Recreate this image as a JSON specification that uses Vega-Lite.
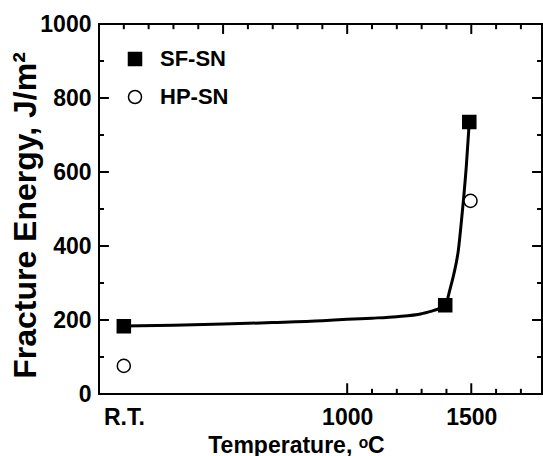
{
  "$schema": "https://vega.github.io/schema/vega-lite/v6.json",
  "width": 443,
  "height": 370,
  "autosize": {"type": "none"},
  "padding": {"left": 99, "top": 24, "right": 1, "bottom": 62},
  "background": "white",
  "config": {
    "view": {"stroke": "black", "strokeWidth": 2},
    "font": "Liberation Sans",
    "axis": {
      "grid": false,
      "domain": false,
      "ticks": false,
      "labelFont": "Liberation Sans",
      "labelFontWeight": "bold",
      "labelFontSize": 23,
      "labelColor": "black",
      "titleFont": "Liberation Sans",
      "titleFontWeight": "bold",
      "titleColor": "black"
    }
  },
  "datasets": {
    "fit": [
      {"T": 100, "E": 184}, {"T": 300, "E": 186}, {"T": 500, "E": 189},
      {"T": 700, "E": 193}, {"T": 900, "E": 198}, {"T": 1000, "E": 202},
      {"T": 1100, "E": 205}, {"T": 1200, "E": 209}, {"T": 1300, "E": 217},
      {"T": 1350, "E": 226}, {"T": 1395, "E": 240}, {"T": 1415, "E": 285},
      {"T": 1430, "E": 325}, {"T": 1448, "E": 389}, {"T": 1460, "E": 465},
      {"T": 1470, "E": 535}, {"T": 1480, "E": 615}, {"T": 1492, "E": 735}
    ],
    "pts": [
      {"T": 100, "E": 183, "series": "SF-SN"},
      {"T": 1395, "E": 240, "series": "SF-SN"},
      {"T": 1492, "E": 735, "series": "SF-SN"},
      {"T": 100, "E": 76, "series": "HP-SN"},
      {"T": 1497, "E": 522, "series": "HP-SN"}
    ],
    "xBotMajor": [{"T": 1000}, {"T": 1500}],
    "xBotMinor": [{"T": 1100}, {"T": 1200}, {"T": 1300}, {"T": 1400}, {"T": 1600}, {"T": 1700}],
    "xTopMajor": [{"T": 500}, {"T": 1000}, {"T": 1500}],
    "xTopMinor": [{"T": 100}, {"T": 200}, {"T": 300}, {"T": 400}, {"T": 600}, {"T": 700}, {"T": 800}, {"T": 900}, {"T": 1100}, {"T": 1200}, {"T": 1300}, {"T": 1400}, {"T": 1600}, {"T": 1700}],
    "yMajor": [{"E": 200}, {"E": 400}, {"E": 600}, {"E": 800}],
    "yMinor": [{"E": 100}, {"E": 300}, {"E": 500}, {"E": 700}, {"E": 900}]
  },
  "layer": [
    {
      "data": {"name": "fit"},
      "mark": {"type": "line", "color": "black", "strokeWidth": 3, "interpolate": "monotone"},
      "encoding": {
        "x": {
          "field": "T", "type": "quantitative",
          "scale": {"domain": [0, 1785], "nice": false, "zero": false},
          "axis": {
            "orient": "bottom",
            "values": [100, 1000, 1500],
            "format": "d",
            "labelExpr": "datum.value == 100 ? 'R.T.' : datum.label",
            "labelPadding": 12,
            "title": "Temperature, ᵒC",
            "titleFontSize": 23,
            "titleX": 197,
            "titleY": 58,
            "titleBaseline": "alphabetic",
            "titleAnchor": "middle"
          }
        },
        "y": {
          "field": "E", "type": "quantitative",
          "scale": {"domain": [0, 1000], "nice": false},
          "axis": {
            "orient": "left",
            "values": [0, 200, 400, 600, 800, 1000],
            "format": "d",
            "labelPadding": 8,
            "title": "Fracture Energy, J/m²",
            "titleFontSize": 32,
            "titleX": -64,
            "titleY": 191,
            "titleAngle": -90,
            "titleBaseline": "alphabetic",
            "titleAlign": "center"
          }
        }
      }
    },
    {
      "data": {"name": "xBotMajor"},
      "mark": {"type": "rule", "color": "black", "strokeWidth": 2},
      "encoding": {"x": {"field": "T", "type": "quantitative"}, "y": {"datum": 0, "type": "quantitative"}, "y2": {"datum": 29}}
    },
    {
      "data": {"name": "xBotMinor"},
      "mark": {"type": "rule", "color": "black", "strokeWidth": 2},
      "encoding": {"x": {"field": "T", "type": "quantitative"}, "y": {"datum": 0, "type": "quantitative"}, "y2": {"datum": 14}}
    },
    {
      "data": {"name": "xTopMajor"},
      "mark": {"type": "rule", "color": "black", "strokeWidth": 2},
      "encoding": {"x": {"field": "T", "type": "quantitative"}, "y": {"datum": 1000, "type": "quantitative"}, "y2": {"datum": 973}}
    },
    {
      "data": {"name": "xTopMinor"},
      "mark": {"type": "rule", "color": "black", "strokeWidth": 2},
      "encoding": {"x": {"field": "T", "type": "quantitative"}, "y": {"datum": 1000, "type": "quantitative"}, "y2": {"datum": 986}}
    },
    {
      "data": {"name": "yMajor"},
      "mark": {"type": "rule", "color": "black", "strokeWidth": 2},
      "encoding": {"y": {"field": "E", "type": "quantitative"}, "x": {"datum": 0, "type": "quantitative"}, "x2": {"datum": 40}}
    },
    {
      "data": {"name": "yMinor"},
      "mark": {"type": "rule", "color": "black", "strokeWidth": 2},
      "encoding": {"y": {"field": "E", "type": "quantitative"}, "x": {"datum": 0, "type": "quantitative"}, "x2": {"datum": 20}}
    },
    {
      "data": {"name": "yMajor"},
      "mark": {"type": "rule", "color": "black", "strokeWidth": 2},
      "encoding": {"y": {"field": "E", "type": "quantitative"}, "x": {"datum": 1785, "type": "quantitative"}, "x2": {"datum": 1745}}
    },
    {
      "data": {"name": "yMinor"},
      "mark": {"type": "rule", "color": "black", "strokeWidth": 2},
      "encoding": {"y": {"field": "E", "type": "quantitative"}, "x": {"datum": 1785, "type": "quantitative"}, "x2": {"datum": 1765}}
    },
    {
      "data": {"name": "pts"},
      "mark": {"type": "point", "filled": false, "strokeWidth": 1.5, "size": 170, "opacity": 1},
      "encoding": {
        "x": {"field": "T", "type": "quantitative"},
        "y": {"field": "E", "type": "quantitative"},
        "shape": {
          "field": "series", "type": "nominal",
          "scale": {"domain": ["SF-SN", "HP-SN"], "range": ["square", "circle"]},
          "legend": {
            "title": null,
            "orient": "none",
            "legendX": 25,
            "legendY": 24,
            "padding": 0,
            "symbolSize": 170,
            "symbolStrokeWidth": 1.5,
            "labelFont": "Liberation Sans",
            "labelFontWeight": "bold",
            "labelFontSize": 22,
            "labelColor": "black",
            "labelOffset": 14,
            "rowPadding": 16
          }
        },
        "fill": {
          "field": "series", "type": "nominal",
          "scale": {"domain": ["SF-SN", "HP-SN"], "range": ["black", "white"]},
          "legend": null
        },
        "stroke": {"value": "black"}
      }
    }
  ]
}
